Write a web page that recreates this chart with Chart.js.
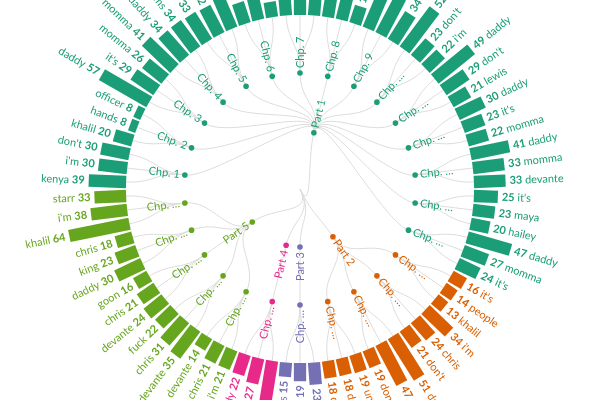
<!DOCTYPE html>
<html lang="en">
<head>
<meta charset="UTF-8">
<title>Most frequent words by chapter</title>
<script src="https://cdn.jsdelivr.net/npm/chart.js"></script>
<style>
  html, body { margin: 0; padding: 0; background: #fff; }
  canvas { display: block; }
</style>
</head>
<body>
<canvas id="chart" width="600" height="400"></canvas>
<script>
const parts = ['Part 1', 'Part 2', 'Part 3', 'Part 4', 'Part 5'];
const partColors = ['#1b9e77', '#d95f02', '#7570b3', '#e7298a', '#66a61e'];

const chapters = [
  'Chp. 1', 'Chp. 2', 'Chp. 3', 'Chp. 4', 'Chp. 5', 'Chp. 6', 'Chp. 7', 'Chp. 8', 'Chp. 9',
  'Chp. …', 'Chp. …', 'Chp. …', 'Chp. …', 'Chp. …', 'Chp. …',
  'Chp. …', 'Chp. …', 'Chp. …', 'Chp. …',
  'Chp. …',
  'Chp. …',
  'Chp. …', 'Chp. …', 'Chp. …', 'Chp. …', 'Chp. …'
];
const chapterPart = [0,0,0,0,0,0,0,0,0,0,0,0,0,0,0, 1,1,1,1, 2, 3, 4,4,4,4,4];

// leaves, clockwise starting at the first word of Chp. 1
const words = [
  'kenya', "i'm", "don't", 'khalil', 'hands', 'officer', 'daddy', "it's", 'momma', 'momma',
  'daddy', 'williams', 'khalil', 'daddy', "it's", 'chris', 'momma', 'hailey', 'daddy', "i'm",
  "don't", 'momma', "it's", 'seven', 'daddy', 'khalil', 'momma', 'daddy', "don't", "i'm",
  'daddy', "don't", 'lewis', 'daddy', "it's", 'momma', 'daddy', 'momma', 'devante', "it's",
  'maya', 'hailey', 'daddy', 'momma', "it's",
  "it's", 'people', 'khalil', "i'm", 'chris', "don't", 'daddy', 'momma', "don't", 'uncle', 'daddy', 'chris',
  'khalil', 'daddy', "it's",
  'momma', 'khalil', 'daddy',
  "i'm", 'chris', 'devante', 'devante', 'chris', 'fuck', 'devante', 'chris', 'goon', 'daddy', 'king', 'chris', 'khalil', "i'm", 'starr'
];
const counts = [
  39, 30, 30, 20, 8, 8, 57, 29, 26, 41,
  34, 34, 33, 32, 40, 23, 36, 16, 45, 31,
  27, 38, 29, 19, 38, 44, 34, 52, 23, 22,
  49, 29, 21, 30, 23, 22, 41, 33, 33, 25,
  23, 20, 47, 27, 24,
  16, 14, 13, 34, 24, 21, 51, 47, 19, 19, 18, 18,
  23, 19, 15,
  45, 27, 22,
  21, 21, 14, 35, 31, 22, 24, 21, 16, 30, 23, 18, 64, 38, 33
];
const wordChapter = [
  0,0,0, 1,1,1, 2,2,2, 3,3,3, 4,4,4, 5,5,5, 6,6,6, 7,7,7, 8,8,8, 9,9,9,
  10,10,10, 11,11,11, 12,12,12, 13,13,13, 14,14,14,
  15,15,15, 16,16,16, 17,17,17, 18,18,18,
  19,19,19,
  20,20,20,
  21,21,21, 22,22,22, 23,23,23, 24,24,24, 25,25,25
];

// geometry of the radial scale
const RING = 174;          // px from centre to the foot of the bars
const PX_PER_COUNT = 0.96;
const AREA = 189;          // drawing area radius given by the layout
const ringUnits = RING / PX_PER_COUNT;
const rMin = -ringUnits;
const rMax = rMin + AREA / PX_PER_COUNT;
const depthValue = d => rMin + ringUnits * d / 3;

const mean = a => a.reduce((s, v) => s + v, 0) / a.length;
const chapterIdx = chapters.map((_, c) => mean(wordChapter.map((ch, i) => ch === c ? i : -1).filter(i => i >= 0)));
const partIdx = parts.map((_, p) => mean(chapterIdx.filter((_, c) => chapterPart[c] === p)));
const rootIdx = mean(partIdx);

const FONT = 'Lato, "Noto Sans", sans-serif';
const LINK = '#dcdcdc';

const treePlugin = {
  id: 'tree',
  afterDatasetsDraw(chart) {
    const r = chart.scales.r;
    const ctx = chart.ctx;
    const pos = (idx, v, extra = 0) => r.getPointPosition(idx, r.getDistanceFromCenterForValue(v) + extra);
    const flipped = idx => r.getIndexAngle(idx) > Math.PI - 1e-6;

    const link = (i0, v0, i1, v1) => {
      const vm = (v0 + v1) / 2;
      const a = pos(i0, v0), b = pos(i0, vm), c = pos(i1, vm), d = pos(i1, v1);
      ctx.moveTo(a.x, a.y);
      ctx.bezierCurveTo(b.x, b.y, c.x, c.y, d.x, d.y);
    };

    ctx.save();
    ctx.strokeStyle = LINK;
    ctx.lineWidth = 1;
    ctx.beginPath();
    partIdx.forEach(pi => link(rootIdx, depthValue(0), pi, depthValue(1)));
    chapterIdx.forEach((ci, c) => link(partIdx[chapterPart[c]], depthValue(1), ci, depthValue(2)));
    words.forEach((_, i) => link(chapterIdx[wordChapter[i]], depthValue(2), i, 0));
    ctx.stroke();

    // bars
    const half = 12.3 / 2;
    counts.forEach((v, i) => {
      const p0 = pos(i, 0), p1 = pos(i, v);
      const nx = -Math.sin(p0.angle) * half, ny = Math.cos(p0.angle) * half;
      ctx.fillStyle = partColors[chapterPart[wordChapter[i]]];
      ctx.beginPath();
      ctx.moveTo(p0.x + nx, p0.y + ny);
      ctx.lineTo(p1.x + nx, p1.y + ny);
      ctx.lineTo(p1.x - nx, p1.y - ny);
      ctx.lineTo(p0.x - nx, p0.y - ny);
      ctx.closePath();
      ctx.fill();
    });

    // nodes and their labels
    const nodeLabel = (idx, v, text, color) => {
      const c = pos(idx, v);
      ctx.fillStyle = color;
      ctx.beginPath();
      ctx.arc(c.x, c.y, 2.8, 0, Math.PI * 2);
      ctx.fill();
      const p = pos(idx, v, 5);
      const flip = flipped(idx);
      ctx.save();
      ctx.translate(p.x, p.y);
      ctx.rotate(p.angle + (flip ? Math.PI : 0));
      ctx.font = '11px ' + FONT;
      ctx.textBaseline = 'middle';
      ctx.textAlign = flip ? 'right' : 'left';
      ctx.fillText(text, 0, 0);
      ctx.restore();
    };
    chapterIdx.forEach((ci, c) => nodeLabel(ci, depthValue(2), chapters[c], partColors[chapterPart[c]]));
    partIdx.forEach((pi, p) => nodeLabel(pi, depthValue(1), parts[p], partColors[p]));

    // word labels
    const bold = 'bold 11px ' + FONT, normal = '11px ' + FONT;
    words.forEach((w, i) => {
      const v = counts[i];
      const p = pos(i, v, 4);
      const flip = flipped(i);
      ctx.save();
      ctx.translate(p.x, p.y);
      ctx.rotate(p.angle + (flip ? Math.PI : 0));
      ctx.fillStyle = partColors[chapterPart[wordChapter[i]]];
      ctx.textBaseline = 'middle';
      ctx.font = bold;
      const nw = ctx.measureText(String(v)).width;
      ctx.font = normal;
      const sp = ctx.measureText(' ').width;
      if (flip) {
        ctx.textAlign = 'right';
        ctx.font = bold;
        ctx.fillText(String(v), 0, 0);
        ctx.font = normal;
        ctx.fillText(w, -(nw + sp), 0);
      } else {
        ctx.textAlign = 'left';
        ctx.font = bold;
        ctx.fillText(String(v), 0, 0);
        ctx.font = normal;
        ctx.fillText(w, nw + sp, 0);
      }
      ctx.restore();
    });
    ctx.restore();
  }
};

new Chart(document.getElementById('chart').getContext('2d'), {
  type: 'radar',
  data: {
    labels: words,
    datasets: [{
      data: counts,
      showLine: false,
      fill: false,
      pointRadius: 0,
      pointHoverRadius: 0,
      borderWidth: 0
    }]
  },
  options: {
    responsive: false,
    animation: false,
    events: [],
    layout: { padding: { top: 0, left: 0, right: 0, bottom: 22 } },
    plugins: { legend: { display: false }, tooltip: { enabled: false } },
    scales: {
      r: {
        min: rMin,
        max: rMax,
        startAngle: -19 * 360 / 78,
        grid: { display: false },
        angleLines: { display: false },
        ticks: { display: false },
        pointLabels: { display: false }
      }
    }
  },
  plugins: [treePlugin]
});
</script>
</body>
</html>
